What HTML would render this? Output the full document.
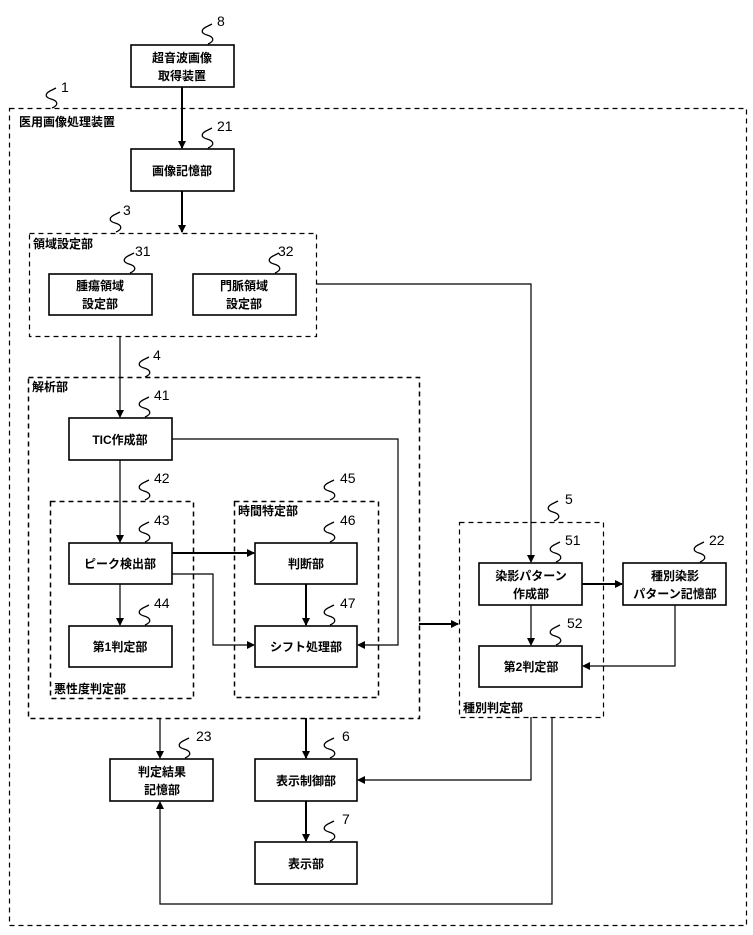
<!DOCTYPE html>
<html><head><meta charset="utf-8"><style>
html,body{margin:0;padding:0;background:#fff}
svg{display:block}
text{font-family:"Liberation Sans","Noto Sans CJK JP",sans-serif;fill:#000}
.b{font-size:12px;font-weight:bold;text-anchor:middle}
.l{font-size:12px;font-weight:bold}
.n{font-size:14px}
</style></head><body>
<svg width="753" height="935" viewBox="0 0 753 935" xmlns="http://www.w3.org/2000/svg">
<defs>
<marker id="a" markerWidth="8" markerHeight="8" refX="7" refY="4" orient="auto" markerUnits="userSpaceOnUse"><path d="M0,0 L8,4 L0,8 z" fill="#000"/></marker>
<path id="s" d="M0,0 c7,-3 6,-7 -1,-9 c-7,-2 -6,-6 1,-9 l4,-2"/>
</defs>
<g fill="none" stroke="#000" stroke-width="1.2" stroke-dasharray="5,4">
<rect x="9.5" y="108.5" width="737" height="817"/>
<rect x="29.5" y="233.5" width="287" height="103"/>
<rect x="28.5" y="377.5" width="391" height="341" stroke-width="1.5"/>
<rect x="50.5" y="501.5" width="143" height="197" stroke-width="1.5"/>
<rect x="234.5" y="501.5" width="144" height="196" stroke-width="1.5"/>
<rect x="459.5" y="522.5" width="144" height="195"/>
</g>
<g fill="#fff" stroke="#000" stroke-width="1.6">
<rect x="131" y="45" width="103" height="42"/>
<rect x="131" y="149" width="103" height="42"/>
<rect x="49" y="274" width="103" height="41"/>
<rect x="193" y="274" width="103" height="41"/>
<rect x="69" y="418" width="103" height="42"/>
<rect x="69" y="543" width="103" height="41"/>
<rect x="69" y="626" width="103" height="41"/>
<rect x="255" y="543" width="102" height="41"/>
<rect x="255" y="626" width="102" height="41"/>
<rect x="479" y="563" width="103" height="42"/>
<rect x="623" y="563" width="103" height="42"/>
<rect x="479" y="646" width="103" height="41"/>
<rect x="110" y="759" width="103" height="42"/>
<rect x="255" y="759" width="102" height="42"/>
<rect x="255" y="842" width="102" height="42"/>
</g>
<g fill="none" stroke="#000" stroke-width="2" marker-end="url(#a)">
<path d="M182,87 V148"/>
<path d="M182,191 V232"/>
<path d="M172,553 H254"/>
<path d="M306,584 V625"/>
<path d="M419,624 H458"/>
<path d="M582,584 H622"/>
<path d="M306,718 V758"/>
<path d="M306,801 V841"/>
</g>
<g fill="none" stroke="#000" stroke-width="1.2" marker-end="url(#a)">
<path d="M316,284 H531 V562"/>
<path d="M120,336 V417"/>
<path d="M120,460 V542"/>
<path d="M120,584 V625"/>
<path d="M172,439 H398 V645 H358"/>
<path d="M172,574 H213 V645 H254"/>
<path d="M531,605 V645"/>
<path d="M675,605 V666 H583"/>
<path d="M531,717 V780 H358"/>
<path d="M552,717 V904 H160 V802"/>
<path d="M160,718 V758"/>
</g>
<g fill="none" stroke="#000" stroke-width="1.3">
<use href="#s" x="208" y="44"/><use href="#s" x="52" y="108"/><use href="#s" x="208" y="148"/>
<use href="#s" x="116" y="232"/><use href="#s" x="130" y="273"/><use href="#s" x="275" y="273"/>
<use href="#s" x="145" y="377"/><use href="#s" x="145" y="417"/><use href="#s" x="145" y="500"/>
<use href="#s" x="145" y="542"/><use href="#s" x="145" y="625"/><use href="#s" x="330" y="500"/>
<use href="#s" x="330" y="542"/><use href="#s" x="330" y="625"/><use href="#s" x="554" y="521"/>
<use href="#s" x="556" y="562"/><use href="#s" x="556" y="645"/><use href="#s" x="700" y="562"/>
<use href="#s" x="185" y="758"/><use href="#s" x="330" y="758"/><use href="#s" x="330" y="841"/>
</g>
<g class="n">
<text x="217" y="26">8</text><text x="61" y="92">1</text><text x="217" y="131">21</text>
<text x="123" y="215">3</text><text x="135" y="256">31</text><text x="278" y="256">32</text>
<text x="153" y="360">4</text><text x="154" y="400">41</text><text x="154" y="483">42</text>
<text x="154" y="525">43</text><text x="154" y="608">44</text><text x="340" y="483">45</text>
<text x="340" y="525">46</text><text x="340" y="608">47</text><text x="565" y="504">5</text>
<text x="565" y="545">51</text><text x="567" y="628">52</text><text x="709" y="545">22</text>
<text x="196" y="741">23</text><text x="342" y="741">6</text><text x="342" y="824">7</text>
</g>
<g class="b">
<text x="182" y="62">超音波画像</text><text x="182" y="80">取得装置</text>
<text x="182" y="175">画像記憶部</text>
<text x="100" y="290">腫瘍領域</text><text x="100" y="308">設定部</text>
<text x="244" y="290">門脈領域</text><text x="244" y="308">設定部</text>
<text x="120" y="444">TIC作成部</text>
<text x="120" y="568">ピーク検出部</text>
<text x="120" y="651">第1判定部</text>
<text x="306" y="568">判断部</text>
<text x="306" y="651">シフト処理部</text>
<text x="531" y="580">染影パターン</text><text x="531" y="598">作成部</text>
<text x="675" y="580">種別染影</text><text x="675" y="598">パターン記憶部</text>
<text x="531" y="671">第2判定部</text>
<text x="162" y="776">判定結果</text><text x="162" y="794">記憶部</text>
<text x="306" y="785">表示制御部</text>
<text x="306" y="868">表示部</text>
</g>
<g class="l">
<text x="19" y="126">医用画像処理装置</text>
<text x="33" y="248">領域設定部</text>
<text x="32" y="391">解析部</text>
<text x="54" y="693">悪性度判定部</text>
<text x="238" y="515">時間特定部</text>
<text x="463" y="712">種別判定部</text>
</g>
</svg>
</body></html>
